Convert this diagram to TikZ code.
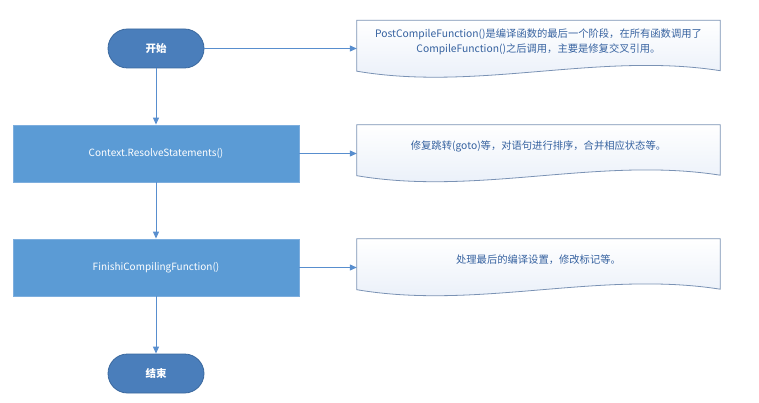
\documentclass[tikz,border=0pt]{standalone}
\usepackage{fontspec}
\setmainfont{Noto Sans CJK SC}
\usetikzlibrary{arrows.meta,calc,backgrounds}
\definecolor{termblue}{RGB}{74,126,187}
\definecolor{termline}{RGB}{58,104,158}
\definecolor{stepblue}{RGB}{91,155,213}
\definecolor{stepline}{RGB}{125,174,222}
\definecolor{flowline}{RGB}{88,142,206}
\definecolor{docline}{RGB}{122,146,180}
\definecolor{doctext}{RGB}{54,98,160}
\definecolor{docfill}{RGB}{230,237,248}
\begin{document}
\begin{tikzpicture}[x=1pt,y=-1pt,
	terminal/.style={draw=termline,fill=termblue,line width=0.8pt,
		rounded corners=19.5pt,minimum width=96pt,minimum height=39pt,
		text=white,font=\fontsize{10.5}{12}\selectfont\bfseries},
	process/.style={draw=stepline,fill=stepblue,line width=0.8pt,
		minimum width=286pt,minimum height=57pt,
		text=white,font=\fontsize{10}{12}\selectfont},
	note/.style={minimum width=363pt,minimum height=42pt,inner sep=0pt,
		align=center,text=doctext,font=\fontsize{10.3}{15}\selectfont},
	wave/.style={draw=docline,line width=0.8pt,top color=white,bottom color=docfill},
	flow/.style={draw=flowline,line width=1pt,-{Triangle[length=7pt,width=6pt]}}]
					% page size
					\useasboundingbox (0,0) rectangle (759,403);
					% flow steps
					\node[terminal] (start) at (156,48.5) {开始};
					\node[process] (ctx) at (156,153.5) {Context.ResolveStatements()};
					\node[process] (finish) at (156,267.5) {FinishiCompilingFunction()};
					\node[terminal] (end) at (156,373.5) {结束};
	
					% notes
					\node[note] (note1) at (538.5,41.5)
						{PostCompileFunction()是编译函数的最后一个阶段，在所有函数调用了\\
						 CompileFunction()之后调用，主要是修复交叉引用。};
					\node[note] (note2) at (538.5,146) {修复跳转(goto)等，对语句进行排序，合并相应状态等。};
					\node[note] (note3) at (538.5,260) {处理最后的编译设置，修改标记等。};
	
					% note outlines with wavy bottom
					\begin{scope}[on background layer]
						\foreach \d in {note1,note2,note3}
							\draw[wave]
									 (\d.north west)
								  -- (\d.north east)
								  -- ($(\d.south east)+(0,8)$)
								  .. controls ($(\d.south east)!1/3!(\d.south west)+(0,-11)$)
								  and ($(\d.south east)!2/3!(\d.south west)+(0,29)$)
								  .. ($(\d.south west)+(0,8.5)$)
								  -- cycle;
					\end{scope}
	
					% main flow
					\draw[flow] (start) -- (ctx);
					\draw[flow] (ctx) -- (finish);
					\draw[flow] (finish) -- (end);
					% links to notes
					\draw[flow] (start) -- (start -| note1.west);
					\draw[flow] (ctx) -- (ctx -| note2.west);
					\draw[flow] (finish) -- (finish -| note3.west);
\end{tikzpicture}
\end{document}
